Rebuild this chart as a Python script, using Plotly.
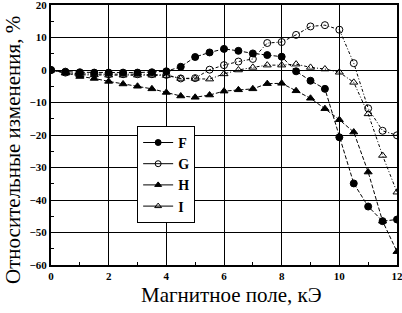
import plotly.graph_objects as go

x = [0, 0.5, 1, 1.5, 2, 2.5, 3, 3.5, 4, 4.5, 5, 5.5, 6, 6.5, 7, 7.5, 8, 8.5, 9, 9.5, 10, 10.5, 11, 11.5, 12]
F = [0, -0.5, -0.7, -0.8, -0.8, -0.8, -0.8, -0.7, -0.4, 1.0, 4.0, 5.4, 6.5, 5.9, 5.1, 4.6, 4.1, -0.4, -3.3, -5.8, -20.7, -34.9, -42.0, -46.5, -46.0]
G = [0, -0.8, -1.2, -1.3, -1.3, -1.3, -1.3, -1.3, -1.5, -2.6, -2.5, 0.1, 1.5, 2.6, 3.4, 8.3, 8.6, 10.8, 13.4, 13.8, 12.4, 2.1, -11.8, -18.7, -20.1]
H = [0, -0.8, -2.0, -2.6, -3.5, -4.3, -5.0, -5.8, -6.9, -8.0, -8.4, -7.7, -6.5, -6.1, -5.8, -4.2, -4.1, -6.4, -8.7, -11.9, -15.3, -19.1, -31.4, -46.5, -55.9]
I = [0, -1.0, -1.5, -1.5, -1.6, -1.6, -1.6, -1.6, -1.7, -2.6, -2.6, -2.8, -1.2, 0.0, 0.8, 1.5, 1.5, 1.8, 0.8, 0.3, -0.7, -3.8, -13.5, -26.3, -37.6]
x_title = "Магнитное поле, кЭ"
y_title = "Относительные изменения, %"

series = [
    ("F", F, "circle", "4px,2px"),
    ("G", G, "circle-open", "3px,2px,1px,2px"),
    ("H", H, "triangle-up", "4px,2px"),
    ("I", I, "triangle-up-open", "3px,2px,1px,2px"),
]

serif = "Liberation Serif"
fig = go.Figure()
for name, ys, sym, dash in series:
    fig.add_trace(go.Scatter(
        x=x, y=ys, name=name, mode="lines+markers", showlegend=False,
        line=dict(color="black", width=1, dash=dash),
        marker=dict(symbol=sym, size=7, color="black", line=dict(color="black", width=1)),
    ))
# legend entries (solid sample lines as in the reference legend)
for name, ys, sym, dash in series:
    fig.add_trace(go.Scatter(
        x=[None], y=[None], name=name, mode="lines+markers", showlegend=True,
        line=dict(color="black", width=1),
        marker=dict(symbol=sym, size=6, color="black", line=dict(color="black", width=1)),
    ))

fig.update_layout(
    width=402, height=313,
    margin=dict(l=51, r=5, t=5, b=48),
    paper_bgcolor="white", plot_bgcolor="white",
    font=dict(family=serif, color="black"),
    legend=dict(
        x=0.249, y=0.535, xanchor="left", yanchor="top",
        bordercolor="black", borderwidth=1, bgcolor="white",
        font=dict(family=serif, size=14, color="black", weight="bold"),
        itemwidth=30, tracegroupgap=0,
    ),
    showlegend=True,
    annotations=[
        dict(text=x_title, xref="paper", yref="paper", x=0.523, y=-0.115,
             xanchor="center", yanchor="middle", showarrow=False,
             font=dict(family=serif, size=21, color="black")),
        dict(text=y_title, xref="paper", yref="paper", x=-0.11, y=0.442,
             xanchor="center", yanchor="middle", showarrow=False, textangle=-90,
             font=dict(family=serif, size=21, color="black")),
    ],
)
fig.update_xaxes(
    range=[0, 12], tickvals=[0, 2, 4, 6, 8, 10, 12], automargin=False,
    ticklabeloverflow="allow",
    showgrid=True, gridcolor="black", gridwidth=1,
    showline=True, linecolor="black", linewidth=2, mirror=True,
    ticks="inside", ticklen=5, tickcolor="black",
    minor=dict(dtick=1, ticks="inside", ticklen=3, tickcolor="black", showgrid=False),
    tickfont=dict(family=serif, size=11, color="black", weight="bold"),
    zeroline=False,
)
fig.update_yaxes(
    range=[-60, 20], tickvals=[-60, -50, -40, -30, -20, -10, 0, 10, 20], automargin=False,
    ticklabeloverflow="allow",
    showgrid=True, gridcolor="black", gridwidth=1,
    showline=True, linecolor="black", linewidth=2, mirror=True,
    ticks="inside", ticklen=5, tickcolor="black",
    minor=dict(dtick=5, ticks="inside", ticklen=3, tickcolor="black", showgrid=False),
    tickfont=dict(family=serif, size=11, color="black", weight="bold"),
    zeroline=False,
)
fig.write_html(
    "out.html",
    config={"displayModeBar": False},
    post_script="document.body.style.margin='0';document.body.style.padding='0';",
)
